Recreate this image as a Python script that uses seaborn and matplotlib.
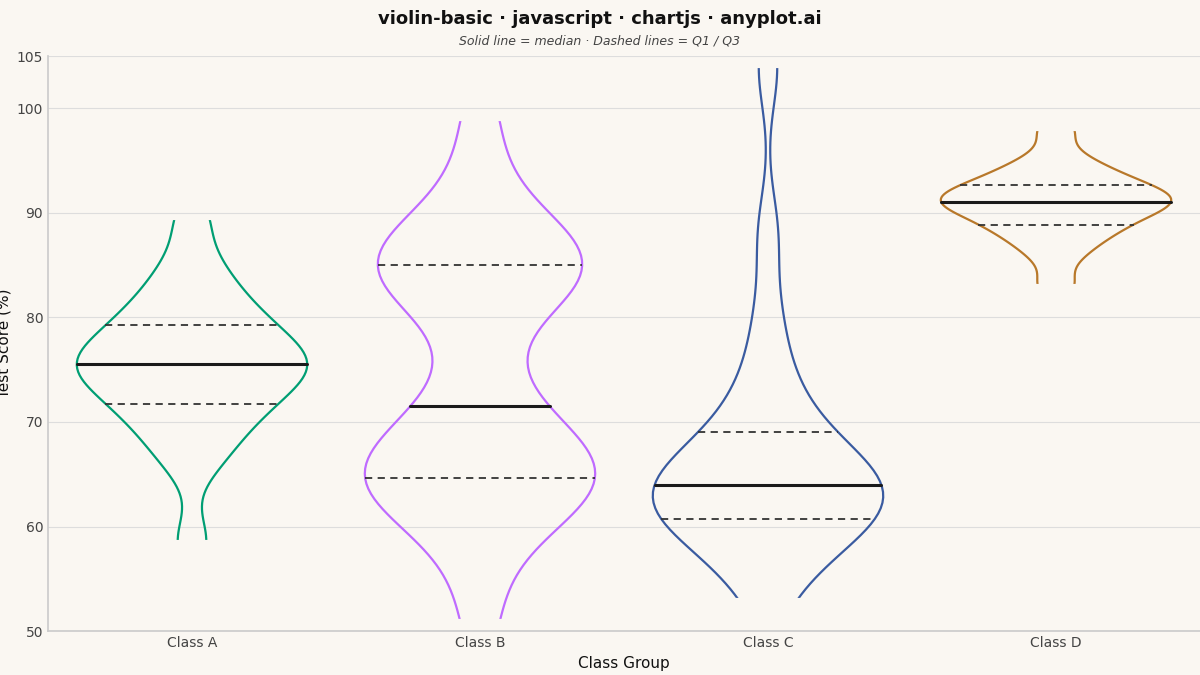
import numpy as np
import pandas as pd
import matplotlib
matplotlib.use("Agg")
import matplotlib.pyplot as plt
import seaborn as sns

class_a = [58.5, 66, 68, 70, 71, 72, 73, 74, 75, 75.5, 75.5, 76, 77, 78, 79, 80, 81, 83, 85, 89.5]
class_b = [51, 58, 61, 63, 64, 64.5, 65, 65.5, 66, 68, 71, 72, 79, 83, 84, 85, 85, 85.5, 86, 88, 92, 99]
class_c = [53, 56, 58, 59, 60, 60.5, 61, 62, 62.5, 63, 63.5, 64, 64.5, 65, 66, 67, 68, 70, 72, 75, 80, 88, 104]
class_d = [83, 86, 87.5, 88.5, 89, 90, 90.5, 91, 91, 91.5, 92, 92.5, 93, 94, 95, 98]
groups = ["Class A", "Class B", "Class C", "Class D"]
colors = ["#009E73", "#BF6BFF", "#3A5BA0", "#B8782A"]

df = pd.DataFrame({
    "group": sum([[g] * len(v) for g, v in zip(groups, [class_a, class_b, class_c, class_d])], []),
    "score": class_a + class_b + class_c + class_d,
})

bg = "#FAF7F2"
sns.set_theme(style="white")
fig, ax = plt.subplots(figsize=(12, 6.75), dpi=100)
fig.patch.set_facecolor(bg)
ax.set_facecolor(bg)

sns.violinplot(data=df, x="group", y="score", hue="group", palette=colors, fill=False,
               inner="quart", cut=0, bw_adjust=0.65, density_norm="width", width=0.8,
               linewidth=1.6, legend=False, ax=ax)

# restyle inner lines: median solid/thick, quartiles dashed
medians = [np.median(df.loc[df.group == g, "score"]) for g in groups]
for ln in ax.lines:
    y = np.asarray(ln.get_ydata(), dtype=float)
    if len(y) == 2 and y[0] == y[1]:
        if any(abs(y[0] - m) < 1e-6 for m in medians):
            ln.set_linestyle("-")
            ln.set_linewidth(2.2)
            ln.set_color("#1a1a1a")
        else:
            ln.set_linestyle((0, (4, 3)))
            ln.set_linewidth(1.3)
            ln.set_color("#333333")

# open the flat tips of each violin
for i, g in enumerate(groups):
    vals = df.loc[df.group == g, "score"]
    ax.hlines([vals.min(), vals.max()], i - 0.2, i + 0.2, color=bg, linewidth=3, zorder=4)

ax.set_ylim(50, 105)
ax.set_xlim(-0.5, 3.5)
ax.set_yticks([50, 60, 70, 80, 90, 100, 105])
ax.yaxis.grid(True, color="#dddddd", linewidth=0.8)
ax.set_axisbelow(True)
for s in ["top", "right"]:
    ax.spines[s].set_visible(False)
for s in ["left", "bottom"]:
    ax.spines[s].set_color("#cccccc")
ax.tick_params(colors="#444444", labelsize=10, length=0)
ax.set_xlabel("Class Group", fontsize=11, color="#111111")
ax.set_ylabel("Test Score (%)", fontsize=11, color="#111111", labelpad=4)

fig.suptitle("violin-basic · javascript · chartjs · anyplot.ai", fontsize=13,
             fontweight="bold", y=0.985, color="#111111")
fig.text(0.5, 0.934, "Solid line = median · Dashed lines = Q1 / Q3", ha="center",
         fontsize=9, style="italic", color="#444444")

plt.subplots_adjust(left=0.04, right=1.0, top=0.917, bottom=0.065)
plt.savefig("out.png", dpi=100, facecolor=bg)
